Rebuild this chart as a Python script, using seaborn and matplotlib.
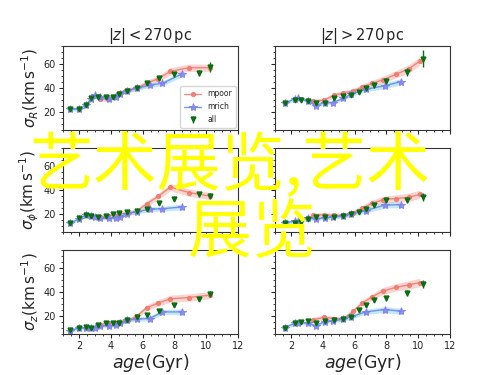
import numpy as np
import pandas as pd
import matplotlib
matplotlib.use('Agg')
import matplotlib.pyplot as plt
import seaborn as sns
from matplotlib.ticker import MultipleLocator

sns.set_style('ticks')
plt.rcParams['font.family'] = ['DejaVu Sans']
plt.rcParams['mathtext.fontset'] = 'dejavusans'

# ------------------------------------------------------------
# data  |z| < 270 pc
# ------------------------------------------------------------
AGE_ALL_LO = [1.45, 2.0, 2.45, 2.75, 3.2, 3.7, 4.15, 4.5, 5.0, 5.65, 6.25, 7.05, 8.0, 9.55, 10.25]
SR_ALL_LO = [22.5, 22.5, 26, 31.5, 32.5, 32.5, 32.5, 35.5, 38, 40, 44, 48.5, 51.5, 53, 57.5]
SP_ALL_LO = [12.5, 17, 19, 18.5, 17.5, 18.5, 20, 21, 21.5, 22.5, 24, 29, 33, 36.5, 35.5]
SZ_ALL_LO = [8.5, 10, 11, 10.5, 12.5, 14.5, 14.5, 14.5, 17, 19.5, 21, 24.5, 29.5, 34.5, 38.5]
ERR_R_LO = [1, 1, 1, 1.2, 1.2, 1.2, 1.2, 1.2, 1.2, 1.5, 1.5, 2, 2, 2.5, 4]
ERR_P_LO = [0.8, 1, 1, 1, 1, 1, 1, 1, 1, 1.2, 1.2, 1.5, 1.8, 2, 2.5]
ERR_Z_LO = [0.6, 0.6, 0.6, 0.6, 0.7, 0.7, 0.7, 0.7, 0.8, 1, 1, 1.2, 1.5, 1.8, 2.2]

AGE_POOR_LO = [3.3, 3.85, 4.5, 5.1, 5.65, 6.25, 7.0, 7.75, 8.9, 10.25]
SR_POOR_LO = [31, 31, 36, 38.5, 40, 44, 48, 54, 57, 57]
SP_POOR_LO = [17.5, 18.5, 20, 21, 22.5, 28.5, 35, 42.5, 38, 35]
SZ_POOR_LO = [13, 14, 15.5, 16.5, 20, 27, 31, 34.5, 35.5, 37.5]
BAND_POOR_LO = [2, 2, 2, 2, 2, 2.5, 2.5, 3, 3, 3]

AGE_RICH_LO = [1.45, 2.0, 2.45, 2.75, 3.0, 3.35, 3.9, 4.3, 4.6, 5.05, 5.65, 6.45, 7.25, 8.5]
SR_RICH_LO = [22.5, 22.5, 26, 31, 34, 32.5, 31, 32.5, 35.5, 38, 40, 42.5, 44, 52]
SP_RICH_LO = [12.5, 16, 19, 18.5, 18, 17, 16.5, 17, 18, 20.5, 22, 24, 24.5, 26]
SZ_RICH_LO = [8, 10, 10, 10, 10.5, 12, 12, 12.5, 14, 16.5, 17.5, 18, 23.5, 23.5]
BAND_RICH_LO = [1.5, 1.5, 1.5, 1.5, 1.5, 1.5, 1.5, 1.5, 1.5, 1.5, 1.8, 2, 2, 2.5]

# ------------------------------------------------------------
# data  |z| > 270 pc
# ------------------------------------------------------------
AGE_ALL_HI = [1.6, 2.25, 2.65, 3.1, 3.6, 4.15, 4.7, 5.3, 5.75, 6.25, 6.7, 7.2, 8.0, 9.3, 10.3]
SR_ALL_HI = [27.5, 30.5, 30, 29, 27.5, 28, 31.5, 33.5, 34.5, 37, 40, 42.5, 46, 53.5, 64.5]
SP_ALL_HI = [13, 13, 13.5, 16, 18, 18, 17.5, 18.5, 20, 22, 24, 27.5, 32, 32, 34.5]
SZ_ALL_HI = [10.5, 14.5, 15.5, 16, 14.5, 16, 17, 17.5, 19.5, 25, 29.5, 33.5, 35, 39, 47]
ERR_R_HI = [1.5, 1.2, 1.2, 1.2, 1.2, 1.2, 1.5, 1.5, 1.5, 1.8, 2, 2, 2.5, 3.5, 7]
ERR_P_HI = [1, 1, 1, 1, 1, 1, 1, 1, 1.2, 1.2, 1.5, 1.5, 2, 2.5, 3.5]
ERR_Z_HI = [1, 1, 1, 1, 1, 1, 1, 1, 1.2, 1.2, 1.5, 1.5, 2, 2.5, 3.5]

AGE_POOR_HI = [3.4, 4.1, 4.7, 5.3, 5.9, 6.5, 7.1, 7.8, 8.6, 9.4, 10.1]
SR_POOR_HI = [29, 30, 34, 36, 37.5, 41, 44, 47, 51.5, 56, 62.5]
SP_POOR_HI = [19, 19.5, 19, 19, 21, 25, 29, 32, 33, 34, 36.5]
SZ_POOR_HI = [17, 19, 18, 17.5, 24, 31, 36, 41, 44, 46, 48]
BAND_POOR_HI = [2, 2, 2, 2, 2, 2.5, 2.5, 3, 3, 3.5, 3.5]

AGE_RICH_HI = [1.6, 2.25, 2.45, 3.1, 3.55, 4.15, 4.65, 5.3, 5.8, 6.7, 7.9, 8.95]
SR_RICH_HI = [27.5, 31, 32, 29, 25.5, 28, 28, 31.5, 35, 39, 42, 45.5]
SP_RICH_HI = [13, 14, 14.5, 16.5, 16, 17, 17.5, 18.5, 20, 23, 27.5, 28]
SZ_RICH_HI = [10.5, 14, 14.5, 14, 12, 15.5, 16, 17.5, 19.5, 23.5, 25.5, 24]
BAND_RICH_HI = [1.5, 1.5, 1.5, 1.5, 1.5, 1.5, 1.5, 1.5, 1.8, 2, 2.5, 2.5]

TITLES = [r'$|z| < 270\,\mathrm{pc}$', r'$|z| > 270\,\mathrm{pc}$']
YLABELS = [r'$\sigma_R(\mathrm{km\,s^{-1}})$',
           r'$\sigma_\phi(\mathrm{km\,s^{-1}})$',
           r'$\sigma_z(\mathrm{km\,s^{-1}})$']
OVERLAY_1 = '艺术展览,艺术'
OVERLAY_2 = '展览'

C_POOR = '#f07a6a'
C_POOR_BAND = '#f4a09a'
C_RICH = '#5a8be6'
C_RICH_MK = '#8080ee'
C_RICH_BAND = '#7cc8f4'
C_ALL = '#0a6e12'

cols = [
    dict(age_all=AGE_ALL_LO, age_poor=AGE_POOR_LO, age_rich=AGE_RICH_LO,
         band_poor=BAND_POOR_LO, band_rich=BAND_RICH_LO,
         rows=[(SR_ALL_LO, ERR_R_LO, SR_POOR_LO, SR_RICH_LO),
               (SP_ALL_LO, ERR_P_LO, SP_POOR_LO, SP_RICH_LO),
               (SZ_ALL_LO, ERR_Z_LO, SZ_POOR_LO, SZ_RICH_LO)]),
    dict(age_all=AGE_ALL_HI, age_poor=AGE_POOR_HI, age_rich=AGE_RICH_HI,
         band_poor=BAND_POOR_HI, band_rich=BAND_RICH_HI,
         rows=[(SR_ALL_HI, ERR_R_HI, SR_POOR_HI, SR_RICH_HI),
               (SP_ALL_HI, ERR_P_HI, SP_POOR_HI, SP_RICH_HI),
               (SZ_ALL_HI, ERR_Z_HI, SZ_POOR_HI, SZ_RICH_HI)]),
]

fig, axes = plt.subplots(3, 2, figsize=(5, 3.75), dpi=100, sharex=True, sharey=True)
fig.subplots_adjust(left=0.126, right=0.9, top=0.877, bottom=0.109,
                    hspace=0.214, wspace=0.211)

for j, col in enumerate(cols):
    for i, (s_all, e_all, s_poor, s_rich) in enumerate(col['rows']):
        ax = axes[i, j]
        poor = np.array(s_poor)
        rich = np.array(s_rich)
        ax.fill_between(col['age_poor'], poor - np.array(col['band_poor']),
                        poor + np.array(col['band_poor']),
                        color=C_POOR_BAND, alpha=0.45, lw=0)
        ax.fill_between(col['age_rich'], rich - np.array(col['band_rich']),
                        rich + np.array(col['band_rich']),
                        color=C_RICH_BAND, alpha=0.45, lw=0)
        sns.lineplot(x=col['age_poor'], y=s_poor, ax=ax, color=C_POOR,
                     marker='o', markersize=3, mec=C_POOR, lw=1, alpha=0.85,
                     label='mpoor', sort=False)
        sns.lineplot(x=col['age_rich'], y=s_rich, ax=ax, color=C_RICH,
                     marker='*', markersize=6, mfc=C_RICH_MK, mec=C_RICH_MK,
                     lw=1, alpha=0.85, label='mrich', sort=False)
        ax.errorbar(col['age_all'], s_all, yerr=e_all, fmt='v', color=C_ALL,
                    ms=3.5, elinewidth=1, capsize=0, label='all')

        ax.set_xlim(1, 12)
        ax.set_ylim(5, 75)
        ax.xaxis.set_major_locator(MultipleLocator(2))
        ax.xaxis.set_minor_locator(MultipleLocator(0.5))
        ax.yaxis.set_major_locator(MultipleLocator(20))
        ax.yaxis.set_minor_locator(MultipleLocator(5))
        ax.tick_params(which='major', labelsize=7, length=3, width=0.8, pad=2)
        ax.tick_params(which='minor', length=1.5, width=0.6)
        for sp in ax.spines.values():
            sp.set_linewidth(0.8)
            sp.set_color('#333333')
        if i == 0:
            ax.set_title(TITLES[j], fontsize=10.5, pad=4)
        if j == 0:
            ax.set_ylabel(YLABELS[i], fontsize=11, labelpad=2)
        if i == 2:
            ax.set_xlabel(r'$age$(Gyr)', fontsize=12.5, labelpad=1)
        if i == 0 and j == 0:
            ax.legend(loc='lower right', fontsize=5.5, borderaxespad=0.3,
                      handlelength=2.2, labelspacing=0.5, borderpad=0.5)
        else:
            leg = ax.get_legend()
            if leg is not None:
                leg.remove()

cjk = ['Noto Sans CJK SC', 'DejaVu Sans']
fig.text(0.058, 0.555, OVERLAY_1, color='#ffff00', fontsize=46,
         family=cjk, ha='left', va='center')
fig.text(0.376, 0.377, OVERLAY_2, color='#ffff00', fontsize=46,
         family=cjk, ha='left', va='center')

fig.savefig('out.png', dpi=100)
